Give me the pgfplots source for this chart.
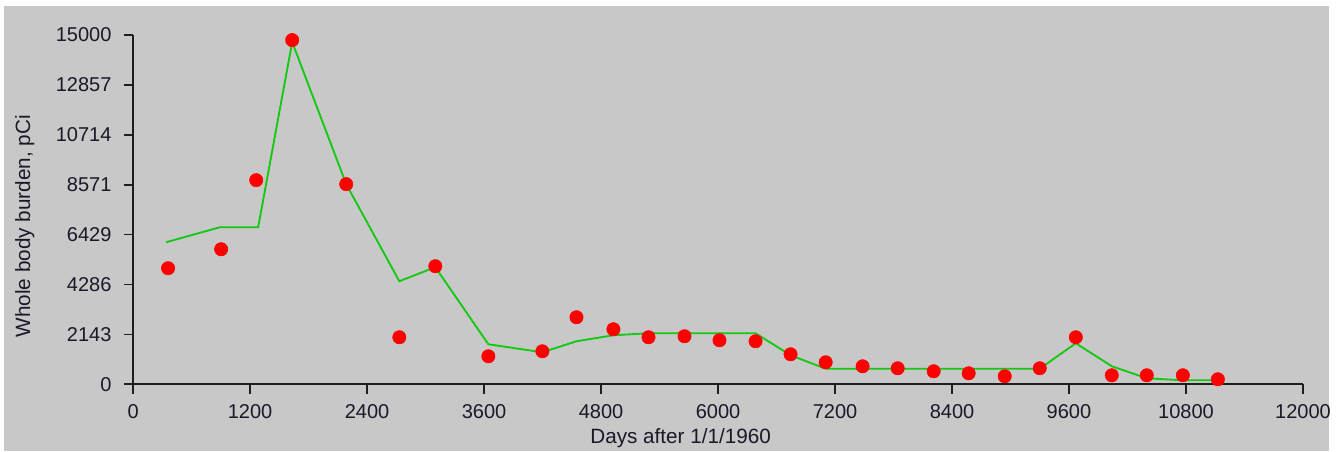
\documentclass[border=0pt]{standalone}
\usepackage{pgfplots}
\pgfplotsset{compat=1.18}
\usepackage{fontspec}
\setmainfont{Liberation Sans}
\definecolor{bg}{RGB}{200,200,200}
\definecolor{lgreen}{RGB}{20,200,20}
\definecolor{axc}{RGB}{30,30,30}
\definecolor{txt}{RGB}{25,25,40}
\begin{document}
\begin{tikzpicture}
\useasboundingbox (-99.75pt,-50.25pt) rectangle (905.25pt,288pt);
\fill[white] (-99.75pt,-50.25pt) rectangle (905.25pt,288pt);
\fill[bg] (-96.75pt,-50.25pt) rectangle (896.25pt,283.5pt);
\begin{axis}[
  at={(0,0)}, anchor=south west,
  scale only axis, width=876.75pt, height=261.75pt,
  xmin=0, xmax=12000, ymin=0, ymax=15000,
  axis x line=bottom, axis y line=left,
  axis line style={-, line width=1.4pt, draw=axc},
  tick style={line width=1.3pt, draw=axc},
  tick align=outside, major tick length=7pt,
  scaled ticks=false,
  xtick={0,1200,2400,3600,4800,6000,7200,8400,9600,10800,12000},
  xticklabels={0,1200,2400,3600,4800,6000,7200,8400,9600,10800,12000},
  ytick={0,2142.857,4285.714,6428.571,8571.429,10714.286,12857.143,15000},
  yticklabels={0,2143,4286,6429,8571,10714,12857,15000},
  tick label style={font=\fontsize{15pt}{18pt}\selectfont, text=txt, inner sep=0pt},
  xticklabel style={anchor=north, yshift=-8.25pt},
  yticklabel style={anchor=east, xshift=-9pt},
  clip=false,
  xlabel={Days after 1/1/1960},
  ylabel={Whole body burden, pCi},
  label style={font=\fontsize{15.5pt}{18pt}\selectfont, text=txt, inner sep=0pt},
  xlabel style={at={(axis description cs:0.468,-0.169)}, anchor=base},
  ylabel style={at={(axis description cs:-0.088,0.4527)}, anchor=base},
]
\addplot[red, only marks, mark=*, mark size=5pt, mark options={fill=red, draw=red}] coordinates {
(359,4985)(903,5800)(1263,8767)(1632,14783)(2186,8595)(2731,2020)(3100,5071)
(3644,1203)(4198,1418)(4548,2879)(4927,2364)(5287,2020)(5656,2063)(6015,1891)
(6385,1848)(6744,1289)(7104,945)(7483,773)(7843,688)(8212,559)(8571,473)
(8941,344)(9300,688)(9670,2020)(10039,387)(10398,387)(10768,387)(11127,215)};
\addplot[lgreen, line width=1.4pt] coordinates {
(339,6102)(893,6747)(1283,6747)(1632,14697)(2186,8595)(2731,4426)(3100,5030)
(3644,1719)(4198,1375)(4548,1848)(4927,2106)(5287,2192)(5656,2192)(6015,2192)
(6385,2192)(6744,1246)(7104,670)(7483,670)(7843,670)(8212,670)(8571,670)
(8941,670)(9300,670)(9670,1762)(10039,774)(10398,258)(10768,172)(11127,172)};
\end{axis}
\end{tikzpicture}
\end{document}
